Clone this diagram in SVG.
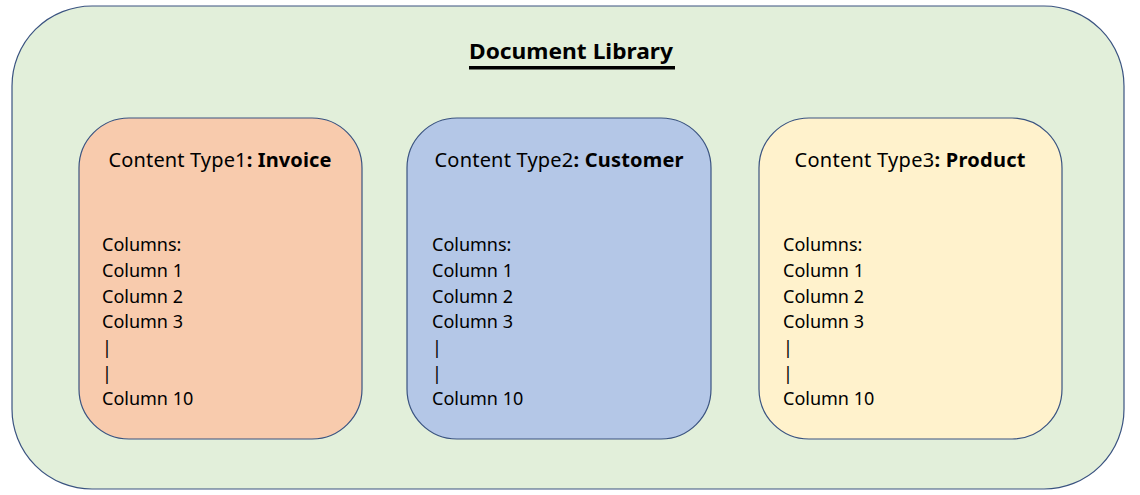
<svg xmlns="http://www.w3.org/2000/svg" width="1140" height="495" viewBox="0 0 1140 495">
<style>
.box{stroke:#3A5380;stroke-width:1.2}
.hdr{font-family:"Noto Sans","Liberation Sans",sans-serif;font-size:20px;fill:#000;text-anchor:middle}
.b{font-weight:bold}
.col{font-family:"Noto Sans","Liberation Sans",sans-serif;font-size:18px;fill:#000}
.title{font-family:"Noto Sans","Liberation Sans",sans-serif;font-size:22px;font-weight:bold;fill:#000;text-anchor:middle}
</style>
<rect width="1140" height="495" fill="#ffffff"/>
<g id="library">
<rect class="box" x="12" y="6" width="1112" height="483" rx="80" ry="80" fill="#E2EFDA"/>
<text class="title" x="571" y="59" textLength="204" lengthAdjust="spacingAndGlyphs">Document Library</text>
<rect x="469" y="66" width="206" height="3.5" fill="#000"/>
</g>
<g id="ct1">
<rect class="box" x="79" y="118" width="283" height="321" rx="50" ry="50" fill="#F8CBAD"/>
<text class="hdr" x="220" y="167" textLength="223">Content Type1<tspan class="b">: Invoice</tspan></text>
<text class="col" x="102" y="251">Columns:</text>
<text class="col" x="102" y="277">Column 1</text>
<text class="col" x="102" y="303">Column 2</text>
<text class="col" x="102" y="328">Column 3</text>
<text class="col" x="102" y="354">|</text>
<text class="col" x="102" y="380">|</text>
<text class="col" x="102" y="405">Column 10</text>
</g>
<g id="ct2">
<rect class="box" x="407" y="118" width="304" height="321" rx="50" ry="50" fill="#B4C7E7"/>
<text class="hdr" x="559" y="167" textLength="249">Content Type2<tspan class="b">: Customer</tspan></text>
<text class="col" x="432" y="251">Columns:</text>
<text class="col" x="432" y="277">Column 1</text>
<text class="col" x="432" y="303">Column 2</text>
<text class="col" x="432" y="328">Column 3</text>
<text class="col" x="432" y="354">|</text>
<text class="col" x="432" y="380">|</text>
<text class="col" x="432" y="405">Column 10</text>
</g>
<g id="ct3">
<rect class="box" x="759" y="118" width="303" height="321" rx="50" ry="50" fill="#FFF2CC"/>
<text class="hdr" x="910" y="167" textLength="231">Content Type3<tspan class="b">: Product</tspan></text>
<text class="col" x="783" y="251">Columns:</text>
<text class="col" x="783" y="277">Column 1</text>
<text class="col" x="783" y="303">Column 2</text>
<text class="col" x="783" y="328">Column 3</text>
<text class="col" x="783" y="354">|</text>
<text class="col" x="783" y="380">|</text>
<text class="col" x="783" y="405">Column 10</text>
</g>
<g id="connectors"></g>
</svg>
